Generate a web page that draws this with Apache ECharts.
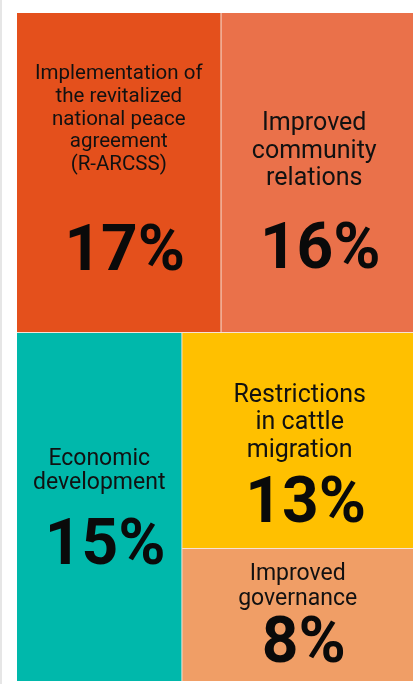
<!DOCTYPE html>
<html>
<head>
<meta charset="utf-8">
<style>
html,body{margin:0;padding:0;background:#fff;}
#main{width:416px;height:684px;}
</style>
<script src="https://cdn.jsdelivr.net/npm/echarts@6/dist/echarts.min.js"></script>
</head>
<body>
<div id="main"></div>
<script>
// ---- data ----
const categories = [
  'Implementation of\nthe revitalized\nnational peace\nagreement\n(R-ARCSS)',
  'Improved\ncommunity\nrelations',
  'Economic\ndevelopment',
  'Restrictions\nin cattle\nmigration',
  'Improved\ngovernance'
];
const values = [17, 16, 15, 13, 8];
// layout grouping (indices into categories): top row, bottom row with nested right column
const grouping = [[0, 1], [2, [3, 4]]];

// ---- styles ----
const colors = ['#E4501C', '#EA714A', '#00B8AB', '#FFC000', '#F09E66'];
const labelStyles = [
  {ns: 20.5, nlh: 22.6, plh: 156, dy: 45, dx: 0},
  {ns: 25, nlh: 27.5, plh: 118, dy: 92, dx: -3},
  {ns: 23, nlh: 24.5, plh: 104, dy: 109, dx: 0},
  {ns: 25, nlh: 27.5, plh: 84, dy: 44, dx: 2},
  {ns: 23, nlh: 25, plh: 67, dy: 8, dx: 0}
];

function leaf(i) {
  const s = labelStyles[i];
  return {
    name: categories[i],
    value: values[i],
    itemStyle: {color: colors[i], borderWidth: 0},
    label: {
      show: true,
      position: 'inside',
      offset: [s.dx, s.dy],
      overflow: 'none',
      align: 'center',
      formatter: function (p) {
        return '{n|' + p.name + '}\n{p|' + p.value + '%}';
      },
      rich: {
        n: {fontFamily: 'Roboto', fontSize: s.ns, lineHeight: s.nlh, color: '#111', align: 'center'},
        p: {fontFamily: 'Roboto', fontWeight: 'bold', fontSize: 64, lineHeight: s.plh, color: '#0a0a0a', align: 'center', padding: [0, 0, 0, 12]}
      }
    }
  };
}
function build(node) {
  if (typeof node === 'number') return leaf(node);
  return {
    name: '',
    children: node.map(build),
    itemStyle: {borderWidth: 0, gapWidth: 1, borderColor: '#f6e2d6'},
    label: {show: false},
    upperLabel: {show: false}
  };
}
const treeData = grouping.map(build);

const chart = echarts.init(document.getElementById('main'), null, {renderer: 'canvas'});
chart.setOption({
  animation: false,
  graphic: [{type: 'rect', shape: {x: 0, y: 0, width: 2, height: 684}, style: {fill: '#e6e6e6'}}],
  series: [{
    type: 'treemap',
    left: 17, top: 13, width: 396, height: 668,
    roam: false,
    nodeClick: false,
    sort: false,
    squareRatio: 1,
    silent: true,
    breadcrumb: {show: false},
    visibleMin: 0,
    itemStyle: {borderWidth: 0, gapWidth: 1, borderColor: '#f6e2d6'},
    levels: [
      {itemStyle: {borderWidth: 0, gapWidth: 1, borderColor: '#f6e2d6'}},
      {itemStyle: {borderWidth: 0, gapWidth: 1, borderColor: '#f6e2d6'}},
      {itemStyle: {borderWidth: 0, gapWidth: 1, borderColor: '#f6e2d6'}},
      {itemStyle: {borderWidth: 0, gapWidth: 1, borderColor: '#f6e2d6'}}
    ],
    emphasis: {disabled: true},
    data: treeData
  }]
});
</script>
</body>
</html>
